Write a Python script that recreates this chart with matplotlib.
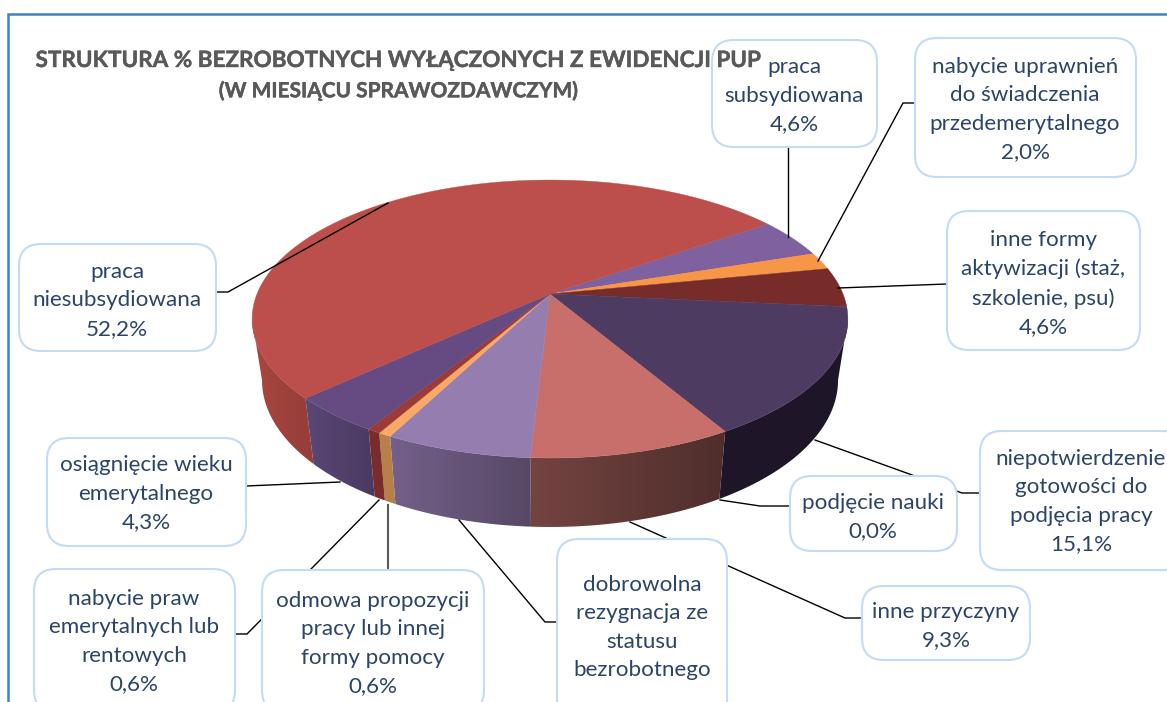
import numpy as np
import matplotlib
matplotlib.use("Agg")
import matplotlib.pyplot as plt
import matplotlib.patheffects as pe
from matplotlib.patches import FancyBboxPatch, Polygon
from matplotlib.colors import to_rgb

plt.rcParams['font.family'] = ['Lato', 'DejaVu Sans']

# ---------- data (clockwise from the "praca subsydiowana" slice) ----------
categories = ["praca\nsubsydiowana",
              "nabycie uprawnień\ndo świadczenia\nprzedemerytalnego",
              "inne formy\naktywizacji (staż,\nszkolenie, psu)",
              "niepotwierdzenie\ngotowości do\npodjęcia pracy",
              "podjęcie nauki",
              "inne przyczyny",
              "dobrowolna\nrezygnacja ze\nstatusu\nbezrobotnego",
              "odmowa propozycji\npracy lub innej\nformy pomocy",
              "nabycie praw\nemerytalnych lub\nrentowych",
              "osiągnięcie wieku\nemerytalnego",
              "praca\nniesubsydiowana"]
values = [4.6, 2.0, 4.6, 15.1, 0.0, 9.3, 6.7, 0.6, 0.6, 4.3, 52.2]
value_shown = [True, True, True, True, True, True, False, True, True, True, True]

top_colors = ["#8061A0", "#F79646", "#772C2A", "#4D3B62", "#4D3B62", "#C96F6B",
              "#967DB0", "#F9A965", "#9B3A36", "#654B82", "#BC4F4B"]
wall_left = ["#4A3A60", "#946030", "#4A1C1A", "#1E1628", "#1E1628", "#744441",
             "#74608A", "#B88049", "#7A2C2A", "#5A4775", "#A8473F"]
wall_right = ["#4A3A60", "#946030", "#4A1C1A", "#1E1628", "#1E1628", "#4F2E2C",
              "#574865", "#B88049", "#7A2C2A", "#4A3A62", "#963D3A"]

# ---------- layout (pixels) ----------
boxes = [(712, 40, 877, 147), (915, 38, 1136, 177), (947, 211, 1140, 350),
         (980, 431, 1185, 570), (790, 476, 957, 551), (862, 586, 1030, 660),
         (557, 539, 727, 730), (262, 570, 484, 712), (34, 569, 235, 712),
         (47, 438, 246, 546), (19, 244, 216, 351)]
text_centers = [(794, 95.5), (1025, 109.5), (1043, 283.5), (1081, 501.5), (873, 517),
                (946, 626), (642, 627.5), (373, 643.5), (134, 641.5), (146, 493.5), (117, 300.5)]
leaders = [[(788, 147), (788, 237)],
           [(915, 103), (903, 103), (818, 261)],
           [(947, 284), (838, 288)],
           [(980, 493), (962, 493), (815, 440)],
           [(790, 506), (760, 506), (720, 500)],
           [(862, 618), (845, 618), (630, 522)],
           [(557, 622), (545, 622), (459, 520)],
           [(388, 570), (388, 505)],
           [(235, 634), (247, 634), (379, 500)],
           [(246, 486), (340, 482)],
           [(216, 292), (228, 292), (388, 203)]]

APEX_X, APEX_Y = 550, 294
K, BX, BY = 0.18, 293.0, 134.5
START = 55.0


def top_xy(theta):
    """Perspective projection of a disc; theta clockwise from the back, degrees."""
    t = np.radians(theta)
    u, v = np.sin(t), -np.cos(t)
    w = 1 - K * v
    return APEX_X + BX * u / w, APEX_Y + BY * v / w


def bottom_xy(theta):
    x, y = top_xy(theta)
    return APEX_X + (x - APEX_X) * 0.967, 353.6 + 1.057 * (y - APEX_Y)


fig = plt.figure(figsize=(11.67, 7.02), dpi=100)
ax = fig.add_axes([0, 0, 1, 1])
ax.axis("off")

edges = START + np.concatenate([[0], np.cumsum(values)]) * 3.6 / (sum(values) / 100)

# side wall: a left-to-right shade clipped to the wall outline of each slice;
# the visible wall runs between the two widest points of the projected disc
FRONT_A = 180.0 - np.degrees(np.arccos(K))
FRONT_B = 180.0 + np.degrees(np.arccos(K))
for i in range(len(values)):
    lo, hi = max(edges[i], FRONT_A), min(edges[i + 1], FRONT_B)
    if hi <= lo:
        continue
    th = np.linspace(lo, hi, max(4, int((hi - lo) * 2)))
    xt, yt = top_xy(th)
    xb, yb = bottom_xy(th)
    px, py = np.r_[xt, xb[::-1]], np.r_[yt, yb[::-1]]
    cl, cr = np.array(to_rgb(wall_left[i])), np.array(to_rgb(wall_right[i]))
    f = np.linspace(0, 1, 256)[None, :, None]
    img = cl[None, None, :] + (cr - cl)[None, None, :] * f
    im = ax.imshow(img, extent=(px.min(), px.max(), py.max(), py.min()),
                   aspect="auto", interpolation="bilinear", zorder=2)
    clip = Polygon(np.c_[px, py], closed=True, transform=ax.transData,
                   fc="none", ec="none")
    ax.add_patch(clip)
    im.set_clip_path(clip)

ax.set_xlim(0, 1167)
ax.set_ylim(702, 0)

# top of the pie
for i in range(len(values)):
    a, b = edges[i], edges[i + 1]
    if b <= a:
        continue
    th = np.linspace(a, b, max(3, int((b - a) * 2)))
    xs, ys = top_xy(th)
    ax.fill(np.r_[APEX_X, xs], np.r_[APEX_Y, ys], color=top_colors[i], lw=0.3, zorder=3)

# leader lines
for i, pts in enumerate(leaders):
    xs, ys = zip(*pts)
    grey = i == 7
    ax.plot(xs, ys, color="#595959" if grey else "black", lw=1.5 if grey else 1.0,
            zorder=4, solid_joinstyle="miter")

# labels
for i, (x0, y0, x1, y1) in enumerate(boxes):
    r = 22
    ax.add_patch(FancyBboxPatch((x0 + r, y0 + r), x1 - x0 - 2 * r, y1 - y0 - 2 * r,
                                boxstyle=f"round,pad={r},rounding_size={r}",
                                fc="white", ec="#C5DAF6", lw=1.5, zorder=5))
    s = categories[i]
    if value_shown[i]:
        s += "\n" + f"{values[i]:.1f}%".replace(".", ",")
    cx, cy = text_centers[i]
    ax.text(cx, cy, s, ha="center", va="center", ma="center", fontsize=16.1,
            linespacing=1.54, color="#2B4468", zorder=6)

# frame
ax.plot([8, 8, 1167], [702, 14, 14], color="#3D82C6", lw=1.8, zorder=7,
        solid_joinstyle="miter")

# title
stroke = [pe.withStroke(linewidth=0.3, foreground="#595959")]
ax.text(398, 60.5, "STRUKTURA % BEZROBOTNYCH WYŁĄCZONYCH Z EWIDENCJI PUP", ha="center",
        va="center", fontsize=16.2, fontweight="bold", color="#595959", zorder=8,
        path_effects=stroke)
ax.text(398, 91, "(W MIESIĄCU SPRAWOZDAWCZYM)", ha="center", va="center",
        fontsize=15.05, fontweight="bold", color="#595959", zorder=8,
        path_effects=stroke)

fig.savefig("out.png", dpi=100)
